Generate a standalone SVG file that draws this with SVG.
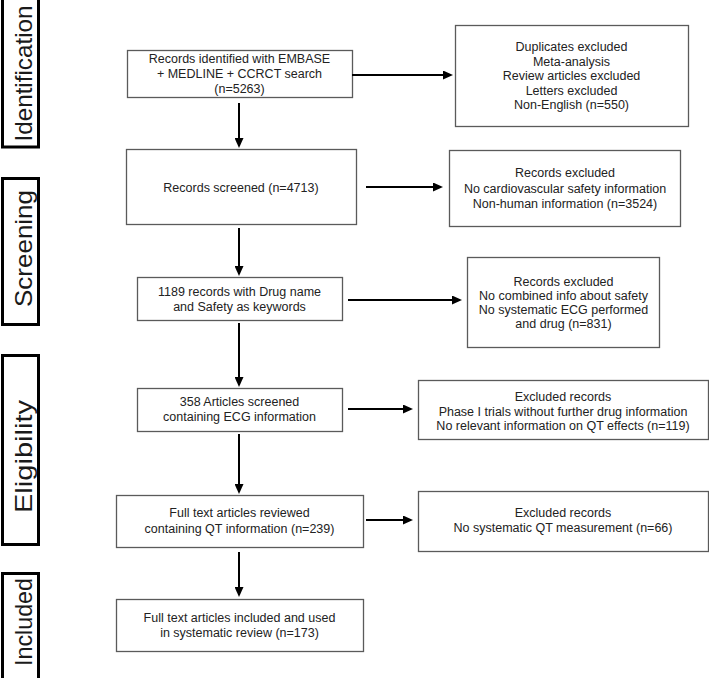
<svg xmlns="http://www.w3.org/2000/svg" width="709" height="678" viewBox="0 0 709 678">
<defs>
<style>
.box{fill:#fff;stroke:#5a5a5a;stroke-width:1.3}
.stage{fill:#fff;stroke:#000;stroke-width:3}
.t{font-family:"Liberation Sans",Arial,sans-serif;font-size:12.5px;fill:#222;text-anchor:middle}
.st{font-family:"Liberation Sans",Arial,sans-serif;font-size:24.5px;fill:#1a1a1a;text-anchor:middle}
.arr{stroke:#000;stroke-width:2;fill:none;marker-end:url(#ah)}
</style>
<marker id="ah" markerUnits="userSpaceOnUse" markerWidth="10" markerHeight="9" refX="8" refY="4.5" orient="auto">
<path d="M0,0 L10,4.5 L0,9 z" fill="#000"/>
</marker>
</defs>
<rect width="709" height="678" fill="#fff"/>

<g id="stage-identification">
<rect class="stage" x="2.5" y="-3" width="36" height="150"/>
<text class="st" transform="translate(32,73.5) rotate(-90)" textLength="136" lengthAdjust="spacingAndGlyphs">Identification</text>
</g>
<g id="stage-screening">
<rect class="stage" x="2.5" y="178.5" width="36" height="146"/>
<text class="st" transform="translate(32,248.5) rotate(-90)" textLength="117" lengthAdjust="spacingAndGlyphs">Screening</text>
</g>
<g id="stage-eligibility">
<rect class="stage" x="2.5" y="355.5" width="36" height="189"/>
<text class="st" transform="translate(32,456.5) rotate(-90)" textLength="113" lengthAdjust="spacingAndGlyphs">Eligibility</text>
</g>
<g id="stage-included">
<rect class="stage" x="2.5" y="573.5" width="36" height="110"/>
<text class="st" transform="translate(32,622) rotate(-90)" textLength="88" lengthAdjust="spacingAndGlyphs">Included</text>
</g>

<g id="n1">
<rect class="box" x="127.5" y="50.5" width="225" height="47"/>
<text class="t" x="239.5" y="62.5">Records identified with EMBASE</text>
<text class="t" x="239.5" y="77.5">+ MEDLINE + CCRCT search</text>
<text class="t" x="239.5" y="93">(n=5263)</text>
</g>
<g id="n2">
<rect class="box" x="126.5" y="149.5" width="230" height="75"/>
<text class="t" x="241" y="192">Records screened (n=4713)</text>
</g>
<g id="n3">
<rect class="box" x="137.5" y="277.5" width="205" height="43"/>
<text class="t" x="239.5" y="296">1189 records with Drug name</text>
<text class="t" x="239.5" y="311">and Safety as keywords</text>
</g>
<g id="n4">
<rect class="box" x="137.5" y="388.5" width="205" height="43"/>
<text class="t" x="239.5" y="406">358 Articles screened</text>
<text class="t" x="239.5" y="421">containing ECG information</text>
</g>
<g id="n5">
<rect class="box" x="116.5" y="495.5" width="247" height="52"/>
<text class="t" x="239.5" y="517">Full text articles reviewed</text>
<text class="t" x="239.5" y="533">containing QT information (n=239)</text>
</g>
<g id="n6">
<rect class="box" x="116.5" y="599.5" width="247" height="52"/>
<text class="t" x="239.5" y="622">Full text articles included and used</text>
<text class="t" x="239.5" y="637">in systematic review (n=173)</text>
</g>

<g id="r1">
<rect class="box" x="455.5" y="25.5" width="233" height="101"/>
<text class="t" x="571.5" y="51">Duplicates excluded</text>
<text class="t" x="571.5" y="65.5">Meta-analysis</text>
<text class="t" x="571.5" y="80">Review articles excluded</text>
<text class="t" x="571.5" y="94.5">Letters excluded</text>
<text class="t" x="571.5" y="109">Non-English (n=550)</text>
</g>
<g id="r2">
<rect class="box" x="449.5" y="150.5" width="231" height="76"/>
<text class="t" x="565" y="177">Records excluded</text>
<text class="t" x="565" y="192.5">No cardiovascular safety information</text>
<text class="t" x="565" y="208">Non-human information (n=3524)</text>
</g>
<g id="r3">
<rect class="box" x="467.5" y="257.5" width="192" height="90"/>
<text class="t" x="563.5" y="286">Records excluded</text>
<text class="t" x="563.5" y="300">No combined info about safety</text>
<text class="t" x="563.5" y="314">No systematic ECG performed</text>
<text class="t" x="563.5" y="328">and drug (n=831)</text>
</g>
<g id="r4">
<rect class="box" x="418.5" y="380.5" width="290" height="59"/>
<text class="t" x="563" y="401">Excluded records</text>
<text class="t" x="563" y="415.5">Phase I trials without further drug information</text>
<text class="t" x="563" y="430">No relevant information on QT effects (n=119)</text>
</g>
<g id="r5">
<rect class="box" x="418.5" y="491.5" width="290" height="60"/>
<text class="t" x="563" y="517">Excluded records</text>
<text class="t" x="563" y="532">No systematic QT measurement (n=66)</text>
</g>

<g id="connectors">
<line class="arr" x1="239" y1="103" x2="239" y2="146"/>
<line class="arr" x1="239" y1="228" x2="239" y2="274"/>
<line class="arr" x1="239" y1="323" x2="239" y2="385"/>
<line class="arr" x1="239" y1="434" x2="239" y2="492"/>
<line class="arr" x1="239" y1="552" x2="239" y2="595"/>
<line class="arr" x1="352" y1="75" x2="451" y2="75"/>
<line class="arr" x1="366" y1="187" x2="441" y2="187"/>
<line class="arr" x1="348" y1="300" x2="460" y2="300"/>
<line class="arr" x1="348" y1="409" x2="411" y2="409"/>
<line class="arr" x1="366" y1="520" x2="411" y2="520"/>
</g>
</svg>
